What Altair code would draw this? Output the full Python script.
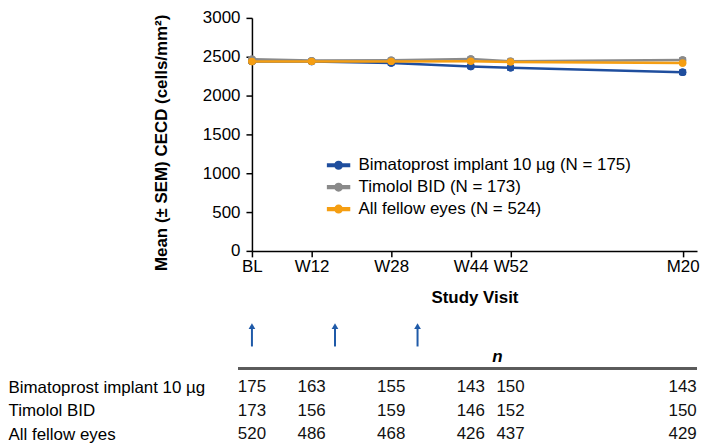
import altair as alt
import pandas as pd

FONT = "Liberation Sans"

# ---- data ----
visits = ["BL", "W12", "W28", "W44", "W52", "M20"]
visit_weeks = [0, 12, 28, 44, 52, 86.6]
y_ticks = [0, 500, 1000, 1500, 2000, 2500, 3000]

series_names = [
    "Bimatoprost implant 10 µg (N = 175)",
    "Timolol BID (N = 173)",
    "All fellow eyes (N = 524)",
]
row_names = ["Bimatoprost implant 10 µg", "Timolol BID", "All fellow eyes"]
colors = ["#1f4e9e", "#8a8a8a", "#f59e12"]

bim_mean = [2440, 2438, 2418, 2375, 2357, 2300]
bim_sem = [18, 19, 20, 22, 22, 25]
tim_mean = [2468, 2450, 2455, 2470, 2443, 2458]
tim_sem = [18, 19, 20, 21, 21, 23]
fel_mean = [2438, 2440, 2440, 2442, 2432, 2420]
fel_sem = [11, 12, 12, 13, 13, 14]

bim_n = [175, 163, 155, 143, 150, 143]
tim_n = [173, 156, 159, 146, 152, 150]
fel_n = [520, 486, 468, 426, 437, 429]

arrow_weeks = [0, 16.7, 33.3]
arrow_color = "#1f5aa8"

# ---- tables ----
means = [bim_mean, tim_mean, fel_mean]
sems = [bim_sem, tim_sem, fel_sem]
ns = [bim_n, tim_n, fel_n]

main_rows = []
for s, m, e in zip(series_names, means, sems):
    for w, mv, ev in zip(visit_weeks, m, e):
        main_rows.append({"series": s, "group": s, "week": w, "mean": mv,
                          "lo": mv - ev, "hi": mv + ev})
df_main = pd.DataFrame(main_rows)

tbl_rows = []
for r, nn in zip(row_names, ns):
    for w, v in zip(visit_weeks, nn):
        tbl_rows.append({"row": r, "week": w, "n": v})
df_tbl = pd.DataFrame(tbl_rows)

df_arrows = pd.DataFrame({"week": arrow_weeks})

# ---- scales / axes ----
W = 447
H = 234
x_dom = [0, 89.5]
xscale = alt.Scale(domain=x_dom, nice=False, zero=False)
yscale = alt.Scale(domain=[0, 3000], nice=False)
cscale = alt.Scale(domain=series_names, range=colors)

lab_expr = " : ".join(f"datum.value == {w} ? '{v}'" for w, v in zip(visit_weeks, visits)) + " : ''"

x_axis = alt.Axis(
    values=visit_weeks, labelExpr=lab_expr, title="Study Visit",
    titleFontSize=17, titleFontWeight="bold", labelFontSize=17,
    tickSize=6, labelPadding=2, titlePadding=15, domainWidth=1.5, tickWidth=1.5,
    labelFlush=False, labelOverlap=False, grid=False,
)
y_axis = alt.Axis(
    values=y_ticks, format="d", title="Mean (± SEM) CECD (cells/mm²)", titleFontSize=17,
    titleFontWeight="bold", labelFontSize=17, tickSize=6, labelPadding=6,
    titlePadding=32, titleY=H / 2 + 8, domainWidth=1.5, tickWidth=1.5, grid=False,
)

sym_path = ("M-1,-0.12L1,-0.12L1,0.12L-1,0.12Z "
            "M0.34,0A0.34,0.34,0,1,1,-0.34,0A0.34,0.34,0,1,1,0.34,0Z")
legend = alt.Legend(title=None, orient="none", legendX=75, legendY=136,
                    labelFontSize=17, labelLimit=400, symbolType=sym_path,
                    symbolSize=484, labelOffset=8, rowPadding=2)

# one unfiltered layer carries the legend
legend_layer = alt.Chart(df_main).mark_circle(size=55, opacity=1).encode(
    x=alt.X("week:Q", scale=xscale, axis=x_axis),
    y=alt.Y("mean:Q", scale=yscale, axis=y_axis),
    color=alt.Color("group:N", scale=cscale, legend=legend),
)


def series_layers(name):
    base = alt.Chart(df_main).transform_filter(alt.datum.series == name)
    X = alt.X("week:Q", scale=xscale, axis=x_axis)
    S = alt.Stroke("series:N", scale=cscale, legend=None)
    F = alt.Fill("series:N", scale=cscale, legend=None)
    line = base.mark_line(strokeWidth=2.5).encode(
        x=X, y=alt.Y("mean:Q", scale=yscale, axis=y_axis), stroke=S)
    bar = base.mark_rule(strokeWidth=2).encode(
        x=X, y=alt.Y("lo:Q", scale=yscale, axis=y_axis), y2="hi:Q", stroke=S)
    cap_lo = base.mark_tick(orient="horizontal", size=7, thickness=2, opacity=1).encode(
        x=X, y=alt.Y("lo:Q", scale=yscale, axis=y_axis), fill=F)
    cap_hi = base.mark_tick(orient="horizontal", size=7, thickness=2, opacity=1).encode(
        x=X, y=alt.Y("hi:Q", scale=yscale, axis=y_axis), fill=F)
    pts = base.mark_circle(size=55, opacity=1).encode(
        x=X, y=alt.Y("mean:Q", scale=yscale, axis=y_axis), fill=F)
    return [line, bar, cap_lo, cap_hi, pts]


layers = [legend_layer]
for s in series_names:
    layers += series_layers(s)
main = alt.layer(*layers).properties(width=W, height=H)

# ---- arrows ----
ay = alt.Scale(domain=[0, 1])
arr_base = alt.Chart(df_arrows)
arr_rule = arr_base.mark_rule(color=arrow_color, strokeWidth=2).encode(
    x=alt.X("week:Q", scale=xscale, axis=None),
    y=alt.YDatum(0, scale=ay, axis=None), y2=alt.Y2Datum(0.45))
arr_head = arr_base.mark_point(shape="triangle-up", filled=True, size=45,
                               color=arrow_color, opacity=1).encode(
    x=alt.X("week:Q", scale=xscale, axis=None),
    y=alt.YDatum(0.5, scale=ay, axis=None))
arrows = alt.layer(arr_rule, arr_head).properties(width=W, height=41)

# ---- table ----
tbl_text = alt.Chart(df_tbl).mark_text(fontSize=17, font=FONT, color="#111111").encode(
    x=alt.X("week:Q", scale=xscale, axis=alt.Axis(
        orient="top", title="n", labels=False, ticks=False, domain=False, grid=False,
        titleFontStyle="italic", titleFontWeight="bold", titleFontSize=17,
        titleX=246, titlePadding=3)),
    y=alt.Y("row:N", sort=row_names,
            scale=alt.Scale(type="point", padding=0.4, align=1),
            axis=alt.Axis(title=None, domain=False, ticks=False, tickSize=0,
                          labelAlign="left", labelPadding=245, labelFontSize=17,
                          labelLimit=400, labelColor="black", grid=False)),
    text="n:Q",
)
tbl_rule = alt.Chart(df_arrows).mark_rule(color="#5a5a5a", strokeWidth=2.5).encode(
    x=alt.XDatum(-2.8), x2=alt.X2Datum(x_dom[1]), y=alt.value(0))
table = alt.layer(tbl_rule, tbl_text).properties(width=W, height=66)

chart = alt.vconcat(main, arrows, table, spacing=0).properties(
    padding={"top": 0, "left": 0, "right": 0, "bottom": 0}
).configure_view(stroke=None).configure_axis(
    labelFont=FONT, titleFont=FONT, labelColor="black", titleColor="black",
    domainColor="black", tickColor="black",
).configure_text(font=FONT).configure_legend(labelFont=FONT, labelColor="black")

chart.save("out.html", embed_options={"renderer": "svg", "actions": False})
